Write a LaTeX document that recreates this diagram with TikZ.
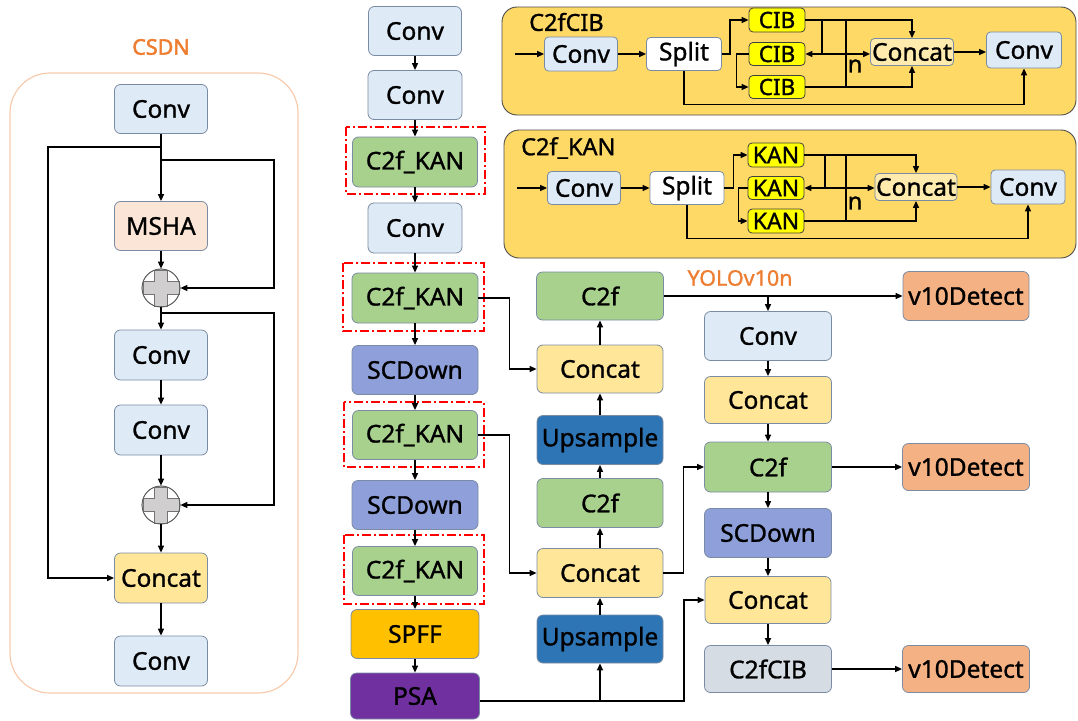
\documentclass[tikz,border=0pt]{standalone}
\usepackage{fontspec}
\setmainfont{Noto Sans}
\newfontfamily\nf[FakeBold=1.1]{Noto Sans}
\newfontfamily\nfb[FakeBold=2.2]{Noto Sans}
\usetikzlibrary{arrows.meta}
\definecolor{bord}{HTML}{7B8BA3}
\definecolor{cblue}{HTML}{DEEBF7}
\definecolor{cgreen}{HTML}{A9D18E}
\definecolor{cscd}{HTML}{8E9FDA}
\definecolor{cyel}{HTML}{FFE699}
\definecolor{cup}{HTML}{2E75B6}
\definecolor{cspff}{HTML}{FFC000}
\definecolor{cpsa}{HTML}{7030A0}
\definecolor{cdet}{HTML}{F4B183}
\definecolor{ccib}{HTML}{D6DCE4}
\definecolor{cpeach}{HTML}{FBE5D6}
\definecolor{cgold}{HTML}{FFD966}
\definecolor{cyy}{HTML}{FFFF00}
\definecolor{corange}{HTML}{ED7D31}
\definecolor{cpanel}{HTML}{F8CBAD}
\definecolor{crossf}{HTML}{D0CECE}
\begin{document}
\begin{tikzpicture}[x=1pt,y=-1pt,
  box/.style={draw=bord, line width=0.8pt, rounded corners=6pt, inner sep=0pt, align=center,
    font=\nf\fontsize{24.5}{29}\selectfont},
  sbox/.style={draw=black!75, line width=0.8pt, rounded corners=4pt, inner sep=0pt, align=center,
    font=\nf\fontsize{24.5}{29}\selectfont},
  sz/.style 2 args={minimum width=#1pt, minimum height=#2pt},
  plusc/.style={circle, draw=black!65, fill=white, line width=0.7pt, minimum size=38pt, inner sep=0pt},
  ln/.style={line width=1.3pt, draw=black},
  arr/.style={ln, -{Triangle[length=7pt,width=6pt]}},
  redbox/.style={draw=red, line width=1.5pt, dash pattern=on 9pt off 3pt on 2pt off 3pt},
  ttl/.style={font=\nf\fontsize{23.5}{28}\selectfont, anchor=west, inner sep=0pt}
]
\useasboundingbox (0,0) rectangle (1078,720);

% ---------------- left panel (CSDN) ----------------
\draw[cpanel, line width=1.2pt, rounded corners=40pt] (10,73) rectangle (298,693);
\node[font=\nfb\fontsize{21.5}{25}\selectfont, text=corange] (csdn) at (161,47) {CSDN};

\node[box, fill=cblue, sz={93}{49}] (lc1) at (161,109) {Conv};
\node[box, fill=cpeach, sz={93}{49}] (msha) at (161,226) {MSHA};
\node[plusc] (p1) at (161,288) {};
\node[box, fill=cblue, sz={93}{50}] (lc2) at (161,355) {Conv};
\node[box, fill=cblue, sz={93}{50}] (lc3) at (161,430) {Conv};
\node[plusc] (p2) at (161,505) {};
\node[box, fill=cyel, sz={93}{50}] (lcat) at (161,578) {Concat};
\node[box, fill=cblue, sz={93}{50}] (lc4) at (161,661) {Conv};

\foreach \p in {p1,p2}{
  \filldraw[fill=crossf, draw=black!55, line width=0.6pt, shift={(\p.center)}]
    (-6.5,-18) -- (6.5,-18) -- (6.5,-6.5) -- (18,-6.5) -- (18,6.5) -- (6.5,6.5) -- (6.5,18)
    -- (-6.5,18) -- (-6.5,6.5) -- (-18,6.5) -- (-18,-6.5) -- (-6.5,-6.5) -- cycle;
  \draw[black!65, line width=0.7pt] (\p.center) circle (19pt);
}

\coordinate (j1) at (161,147);
\coordinate (j2) at (161,160);
\coordinate (j3) at (161,313);
\draw[arr] (lc1.south) -- (msha.north);
\draw[arr] (j1) -- (48,147) |- (lcat.west);
\draw[arr] (j2) -- (274,160) |- (p1.east);
\draw[arr] (msha.south) -- (p1.north);
\draw[arr] (p1.south) -- (lc2.north);
\draw[arr] (j3) -- (274,313) |- (p2.east);
\draw[arr] (lc2.south) -- (lc3.north);
\draw[arr] (lc3.south) -- (p2.north);
\draw[arr] (p2.south) -- (lcat.north);
\draw[arr] (lcat.south) -- (lc4.north);

% ---------------- backbone column ----------------
\node[box, fill=cblue, sz={93}{49}] (m1) at (415,31) {Conv};
\node[box, fill=cblue, sz={94}{49}] (m2) at (415,95) {Conv};
\node[box, fill=cgreen, sz={125}{50}] (m3) at (415,162) {C2f\_KAN};
\node[box, fill=cblue, sz={94}{50}] (m4) at (415,228) {Conv};
\node[box, fill=cgreen, sz={126}{50}] (m5) at (415,298) {C2f\_KAN};
\node[box, fill=cscd, sz={126}{49}] (m6) at (415,370) {SCDown};
\node[box, fill=cgreen, sz={125}{49}] (m7) at (415,435) {C2f\_KAN};
\node[box, fill=cscd, sz={126}{49}] (m8) at (415,505) {SCDown};
\node[box, fill=cgreen, sz={125}{49}] (m9) at (415,571) {C2f\_KAN};
\node[box, fill=cspff, sz={128}{49}] (m10) at (415,634) {SPFF};
\node[box, fill=cpsa, sz={129}{46}] (m11) at (415,696) {PSA};

\draw[redbox] (346,127) rectangle (485,194);
\draw[redbox] (343,263) rectangle (484,331);
\draw[redbox] (344,402) rectangle (484,467);
\draw[redbox] (344,535) rectangle (484,604);

\foreach \a/\b in {m1/m2,m2/m3,m3/m4,m4/m5,m5/m6,m6/m7,m7/m8,m8/m9,m9/m10,m10/m11}
  \draw[arr] (\a.south) -- (\b.north);

% ---------------- neck column 1 ----------------
\node[box, fill=cgreen, sz={127}{48}] (r1) at (600,296) {C2f};
\node[box, fill=cyel, sz={126}{48}] (r2) at (600,369) {Concat};
\node[box, fill=cup, sz={126}{49}] (r3) at (600,440) {Upsample};
\node[box, fill=cgreen, sz={126}{49}] (r4) at (600,503) {C2f};
\node[box, fill=cyel, sz={126}{49}] (r5) at (600,573) {Concat};
\node[box, fill=cup, sz={126}{48}] (r6) at (600,639) {Upsample};
\foreach \a/\b in {r6/r5,r5/r4,r4/r3,r3/r2,r2/r1}
  \draw[arr] (\a.north) -- (\b.south);

% ---------------- neck column 2 ----------------
\node[font=\nf\fontsize{21.5}{25}\selectfont, text=corange] (yolo) at (740,278) {YOLOv10n};
\node[box, fill=cblue, sz={127}{49}] (s1) at (768,336) {Conv};
\node[box, fill=cyel, sz={127}{47}] (s2) at (768,400) {Concat};
\node[box, fill=cgreen, sz={127}{50}] (s3) at (768,467) {C2f};
\node[box, fill=cscd, sz={127}{49}] (s4) at (768,533) {SCDown};
\node[box, fill=cyel, sz={126}{47}] (s5) at (768,600) {Concat};
\node[box, fill=ccib, sz={127}{47}] (s6) at (768,669) {C2fCIB};
\foreach \a/\b in {s1/s2,s2/s3,s3/s4,s4/s5,s5/s6}
  \draw[arr] (\a.south) -- (\b.north);

\node[box, fill=cdet, sz={126}{49}] (d1) at (966,296) {v10Detect};
\node[box, fill=cdet, sz={127}{47}] (d2) at (966,467) {v10Detect};
\node[box, fill=cdet, sz={127}{47}] (d3) at (966,669) {v10Detect};

\draw[arr] (r1.east) -- (d1.west);
\coordinate (j4) at (768,296);
\draw[arr] (j4) -- (s1.north);
\draw[arr] (s3.east) -- (d2.west);
\draw[arr] (s6.east) -- (d3.west);

\draw[arr] (m5.east) -- ++(31,0) |- (r2.west);
\draw[arr] (m7.east) -- ++(31.5,0) |- (r5.west);
\draw[arr] ([yshift=-5pt]m11.east) -- ++(204,0) |- (s5.west);
\coordinate (j5) at (600,701);
\draw[arr] (j5) -- (r6.south);
\draw[arr] (r5.east) -- ++(20,0) |- (s3.west);

% ---------------- C2fCIB detail ----------------
\draw[draw=black!70, fill=cgold, line width=0.9pt, rounded corners=15pt] (502,7) rectangle (1076,115);
\node[ttl] (t1) at (529,22) {C2fCIB};
\node[sbox, fill=cblue, draw=bord, sz={73}{34}] (aconv) at (581,54) {Conv};
\node[sbox, fill=white, draw=bord, sz={75}{33}] (asplit) at (684,54) {Split};
\node[sbox, fill=cyy, sz={56}{24}, font=\nf\fontsize{22.5}{26}\selectfont] (cib1) at (777,20) {CIB};
\node[sbox, fill=cyy, sz={56}{23}, font=\nf\fontsize{22.5}{26}\selectfont] (cib2) at (777,54) {CIB};
\node[sbox, fill=cyy, sz={56}{23}, font=\nf\fontsize{22.5}{26}\selectfont] (cib3) at (777,87) {CIB};
\node[sbox, fill=cyel!80!white, draw=bord, sz={83}{27}] (aconcat) at (912,52) {Concat};
\node[sbox, fill=cblue, draw=bord, sz={75}{36}] (aconv2) at (1024,50) {Conv};
\node[font=\nf\fontsize{23.5}{28}\selectfont, inner sep=0pt] (n1) at (855,66) {n};

\coordinate (ain) at (515,54);
\draw[arr] (ain) -- (aconv.west);
\draw[arr] (aconv.east) -- (asplit.west);
\draw[arr] (asplit.east) -- ++(8,0) |- (cib1.west);
\draw[arr] (cib2.west) -- ++(-12,0) |- (cib3.west);
\draw[arr] (cib1.east) -| (aconcat.north);
\draw[arr] (cib3.east) -| (aconcat.south);
\draw[ln] (822,20) -- (822,54);
\draw[ln] (846,20) -- (846,87);
\coordinate (k1) at (822,54);
\draw[arr] (k1) -- (cib2.east);
\draw[arr] (k1) -- (aconcat.west |- k1);
\draw[arr] (aconcat.east) -- (aconv2.west |- aconcat.east);
\draw[arr] (asplit.south) -- ++(0,33.5) -| (aconv2.south);

% ---------------- C2f_KAN detail ----------------
\draw[draw=black!70, fill=cgold, line width=0.9pt, rounded corners=15pt] (504,130) rectangle (1076,258);
\node[ttl] (t2) at (521,148) {C2f\_KAN};
\node[sbox, fill=cblue, draw=bord, sz={73}{33}] (bconv) at (584,188) {Conv};
\node[sbox, fill=white, draw=bord, sz={74}{33}] (bsplit) at (687,188) {Split};
\node[sbox, fill=cyy, sz={56}{24}, font=\nf\fontsize{23}{26}\selectfont] (kan1) at (776,155) {KAN};
\node[sbox, fill=cyy, sz={56}{23}, font=\nf\fontsize{23}{26}\selectfont] (kan2) at (776,188) {KAN};
\node[sbox, fill=cyy, sz={56}{24}, font=\nf\fontsize{23}{26}\selectfont] (kan3) at (776,221) {KAN};
\node[sbox, fill=cyel!80!white, draw=bord, sz={82}{27}] (bconcat) at (916,187) {Concat};
\node[sbox, fill=cblue, draw=bord, sz={74}{34}] (bconv2) at (1028,187) {Conv};
\node[font=\nf\fontsize{23.5}{28}\selectfont, inner sep=0pt] (n2) at (855,203) {n};

\coordinate (bin) at (517,188);
\draw[arr] (bin) -- (bconv.west);
\draw[arr] (bconv.east) -- (bsplit.west);
\draw[arr] (bsplit.east) -- ++(9,0) |- (kan1.west);
\draw[arr] (kan2.west) -- ++(-9,0) |- (kan3.west);
\draw[arr] (kan1.east) -| (bconcat.north);
\draw[arr] (kan3.east) -| (bconcat.south);
\draw[ln] (825,155) -- (825,188);
\draw[ln] (846,155) -- (846,221);
\coordinate (k2) at (825,188);
\draw[arr] (k2) -- (kan2.east);
\draw[arr] (k2) -- (bconcat.west |- k2);
\draw[arr] (bconcat.east) -- (bconv2.west |- bconcat.east);
\draw[arr] (bsplit.south) -- ++(0,33.5) -| (bconv2.south);
\end{tikzpicture}
\end{document}
